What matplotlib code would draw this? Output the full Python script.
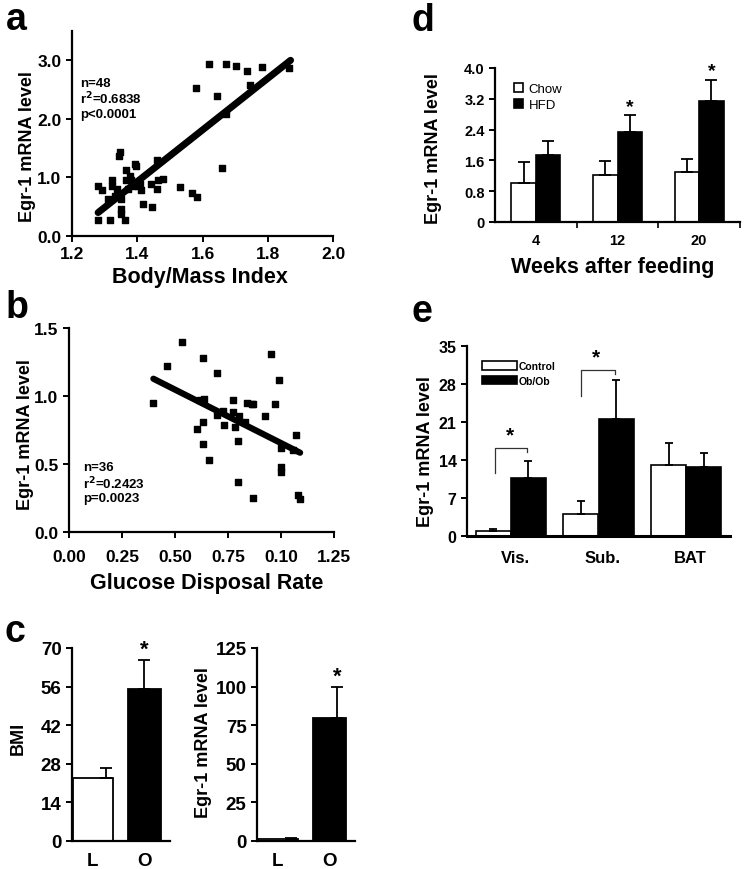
import numpy as np
import matplotlib
matplotlib.use("Agg")
import matplotlib.pyplot as plt

plt.rcParams['font.family'] = ['Liberation Sans', 'DejaVu Sans']
plt.rcParams['font.weight'] = 'bold'
plt.rcParams['axes.labelweight'] = 'bold'

# ---- data ----
# a: BMI vs Egr-1
bmi_x = [1.281, 1.293, 1.281, 1.316, 1.311, 1.324, 1.324, 1.331, 1.345, 1.347,
         1.349, 1.350, 1.349, 1.362, 1.365, 1.367, 1.372, 1.382, 1.392, 1.397,
         1.397, 1.408, 1.413, 1.418, 1.441, 1.446, 1.461, 1.461, 1.465, 1.478,
         1.531, 1.568, 1.583, 1.580, 1.620, 1.643, 1.659, 1.671, 1.671, 1.704,
         1.737, 1.747, 1.782, 1.865, 1.387, 1.337, 1.377, 1.402]
bmi_y = [0.86, 0.79, 0.28, 0.28, 0.63, 0.95, 0.86, 0.69, 1.37, 1.43,
         0.63, 0.46, 0.38, 0.28, 0.95, 1.12, 0.80, 0.95, 1.23, 1.20,
         0.92, 0.89, 0.78, 0.55, 0.89, 0.49, 1.29, 0.80, 0.95, 0.97,
         0.83, 0.74, 0.66, 2.52, 2.94, 2.39, 1.16, 2.93, 2.08, 2.91,
         2.82, 2.57, 2.88, 2.86, 0.86, 0.80, 1.03, 0.86]
fit_a_x = [1.28, 1.87]
fit_a_y = [0.40, 3.00]

# b: glucose disposal rate vs Egr-1
gdr_x = [0.398, 0.461, 0.531, 0.631, 0.697, 0.602, 0.618, 0.631, 0.634, 0.662,
         0.733, 0.775, 0.775, 0.783, 0.803, 0.799, 0.799, 0.830, 0.838, 0.862,
         0.869, 0.866, 0.925, 0.953, 0.972, 0.992, 0.998, 0.998, 1.000, 1.071,
         1.082, 1.090, 0.725, 1.058, 0.637, 0.700]
gdr_y = [0.95, 1.22, 1.40, 1.28, 1.17, 0.76, 0.97, 0.81, 0.65, 0.53,
         0.79, 0.97, 0.88, 0.77, 0.85, 0.67, 0.37, 0.81, 0.95, 0.94,
         0.94, 0.25, 0.85, 1.31, 0.94, 1.12, 0.62, 0.48, 0.44, 0.71,
         0.27, 0.245, 0.89, 0.60, 0.98, 0.86]
fit_b_x = [0.398, 1.09]
fit_b_y = [1.127, 0.583]
gdr_ticklabels = ["0.00", "0.25", "0.50", "0.75", "0.10", "1.25"]

# c: lean vs obese
c_groups = ["L", "O"]
c_bmi = [23, 55]
c_bmi_err = [3.5, 10.5]
c_egr = [1.5, 79.5]
c_egr_err = [0.5, 20]

# d: diet time course
d_weeks = ["4", "12", "20"]
d_chow = [1.02, 1.23, 1.30]
d_chow_err = [0.54, 0.35, 0.33]
d_hfd = [1.73, 2.34, 3.13]
d_hfd_err = [0.37, 0.43, 0.55]
d_star = [False, True, True]

# e: ob/ob depots
e_depots = ["Vis.", "Sub.", "BAT"]
e_ctrl = [0.92, 4.1, 13.0]
e_ctrl_err = [0.3, 2.4, 4.1]
e_ob = [10.7, 21.5, 12.8]
e_ob_err = [3.2, 7.3, 2.5]

W, H = 747, 870
fig = plt.figure(figsize=(W / 100, H / 100), dpi=100)


def ax_px(l, t, r, b):
    ax = fig.add_axes([l / W, 1 - b / H, (r - l) / W, (b - t) / H])
    ax.spines['top'].set_visible(False)
    ax.spines['right'].set_visible(False)
    for s in ('left', 'bottom'):
        ax.spines[s].set_linewidth(1.6)
    ax.tick_params(direction='out', width=1.4, length=4)
    ax._px = (l, t, r, b)
    return ax


def lab_pos(ax, xl=None, yl=None):
    l, t, r, b = ax._px
    if xl is not None:
        ax.xaxis.set_label_coords((xl[0] - l) / (r - l), (b - xl[1]) / (b - t))
    if yl is not None:
        ax.yaxis.set_label_coords((yl[0] - l) / (r - l), (b - yl[1]) / (b - t))


def letter(x, y, s):
    fig.text(x / W, 1 - y / H, s, fontsize=27, fontweight='bold', ha='center', va='center')


# ---- panel a ----
ax = ax_px(72, 32, 333, 237)
ax.scatter(bmi_x, bmi_y, marker='s', s=25, color='black', zorder=3)
ax.plot(fit_a_x, fit_a_y, color='black', lw=5, solid_capstyle='round', zorder=4)
ax.set_xlim(1.2, 2.0)
ax.set_ylim(0, 3.5)
ax.set_xticks([1.2, 1.4, 1.6, 1.8, 2.0])
ax.set_yticks([0, 1, 2, 3])
ax.set_yticklabels(["0.0", "1.0", "2.0", "3.0"])
ax.tick_params(labelsize=12.5)
ax.set_xlabel("Body/Mass Index", fontsize=15.5, va='center')
ax.set_ylabel("Egr-1 mRNA level", fontsize=13, va='center')
lab_pos(ax, (200, 278), (28, 147))
ax.text(1.225, 2.62, "n=48", fontsize=9.5, va='center')
ax.text(1.225, 2.35, "r$^2$=0.6838", fontsize=9.5, va='center')
ax.text(1.225, 2.08, "p<0.0001", fontsize=9.5, va='center')
letter(16, 20, "a")

# ---- panel b ----
ax = ax_px(69, 329, 334, 533)
ax.scatter(gdr_x, gdr_y, marker='s', s=25, color='black', zorder=3)
ax.plot(fit_b_x, fit_b_y, color='black', lw=4.5, solid_capstyle='round', zorder=4)
ax.set_xlim(0, 1.25)
ax.set_ylim(0, 1.5)
ax.set_xticks(np.arange(6) * 0.25)
ax.set_xticklabels(gdr_ticklabels)
ax.set_yticks([0, 0.5, 1.0, 1.5])
ax.set_yticklabels(["0.0", "0.5", "1.0", "1.5"])
ax.tick_params(labelsize=12.5)
ax.tick_params(axis='x', pad=8)
ax.set_xlabel("Glucose Disposal Rate", fontsize=15.5, va='center')
ax.set_ylabel("Egr-1 mRNA level", fontsize=13, va='center')
lab_pos(ax, (207, 583), (26, 435))
ax.text(0.065, 0.478, "n=36", fontsize=9.5, va='center')
ax.text(0.065, 0.36, "r$^2$=0.2423", fontsize=9.5, va='center')
ax.text(0.065, 0.25, "p=0.0023", fontsize=9.5, va='center')
letter(17, 308, "b")

# ---- panel c ----
pos = np.arange(len(c_groups))
widths = [0.78, 0.64]
for (l, r), vals, errs, yl, ymax, step, ylab, ylp, err_off in [
        ((72, 170), c_bmi, c_bmi_err, "BMI", 70, 14, 18, 738, [0.26, 0.0]),
        ((257, 355), c_egr, c_egr_err, "Egr-1 mRNA level", 125, 25, 203, 743, [0.25, 0.15])]:
    ax = ax_px(l, 649, r, 842)
    ax.bar(pos, vals, width=widths, color=['white', 'black'], edgecolor='black', linewidth=1.3)
    ax.errorbar(pos + np.array(err_off), vals, yerr=[[0, 0], errs], fmt='none',
                ecolor='black', elinewidth=1.3, capsize=4, capthick=1.3)
    ax.text(pos[1] + err_off[1], vals[1] + errs[1] + ymax * 0.005, "*", fontsize=16,
            ha='center', va='bottom')
    ax.set_xlim(-0.4, 1.5)
    ax.set_ylim(0, ymax)
    ax.set_yticks(np.arange(0, ymax + 1, step))
    ax.set_xticks(pos)
    ax.set_xticklabels(c_groups)
    ax.tick_params(axis='x', length=0, pad=8)
    ax.tick_params(labelsize=13.5)
    ax.set_ylabel(yl, fontsize=13, va='center')
    lab_pos(ax, None, (ylab, ylp))
letter(15, 632, "c")

# ---- panel d ----
ax = ax_px(495, 69, 740, 223)
x = np.arange(len(d_weeks))
bw = 0.3
b1 = ax.bar(x - bw / 2, d_chow, width=bw, color='white', edgecolor='black', linewidth=1.2, label='Chow')
b2 = ax.bar(x + bw / 2, d_hfd, width=bw, color='black', edgecolor='black', linewidth=1.2, label='HFD')
ax.errorbar(x - bw / 2, d_chow, yerr=[[0] * 3, d_chow_err], fmt='none', ecolor='black',
            elinewidth=1.3, capsize=4, capthick=1.3)
ax.errorbar(x + bw / 2, d_hfd, yerr=[[0] * 3, d_hfd_err], fmt='none', ecolor='black',
            elinewidth=1.3, capsize=4, capthick=1.3)
for i, st in enumerate(d_star):
    if st:
        ax.text(x[i] + bw / 2, d_hfd[i] + d_hfd_err[i] + 0.02, "*", fontsize=14,
                ha='center', va='bottom')
ax.set_xlim(-0.5, 2.5)
ax.set_ylim(0, 4.0)
ax.set_yticks([0, 0.8, 1.6, 2.4, 3.2, 4.0])
ax.set_yticklabels(["0", "0.8", "1.6", "2.4", "3.2", "4.0"])
ax.set_xticks(x)
ax.set_xticklabels(d_weeks)
ax.set_xticks([0.5, 1.5, 2.5], minor=True)
ax.tick_params(axis='x', which='major', length=0, pad=8)
ax.tick_params(axis='x', which='minor', direction='out', length=4, width=1.2)
ax.tick_params(labelsize=10.5)
ax.set_xlabel("Weeks after feeding", fontsize=15.5, va='center')
ax.set_ylabel("Egr-1 mRNA level", fontsize=13, va='center')
lab_pos(ax, (613, 267), (433, 149))
ax.legend(handles=[b1, b2], loc='upper left', bbox_to_anchor=(0.03, 0.98), frameon=False,
          handlelength=0.7, handleheight=0.7, handletextpad=0.4, labelspacing=0.3,
          prop={'size': 9.5, 'weight': 'normal'})
letter(423, 21, "d")

# ---- panel e ----
ax = ax_px(467, 347, 730, 537)
x = np.arange(len(e_depots))
bw = 0.4
b1 = ax.bar(x - bw / 2, e_ctrl, width=bw, color='white', edgecolor='black', linewidth=1.2, label='Control')
b2 = ax.bar(x + bw / 2, e_ob, width=bw, color='black', edgecolor='black', linewidth=1.2, label='Ob/Ob')
ax.errorbar(x - bw / 2, e_ctrl, yerr=[[0] * 3, e_ctrl_err], fmt='none', ecolor='black',
            elinewidth=1.3, capsize=3, capthick=1.3)
ax.errorbar(x + bw / 2, e_ob, yerr=[[0] * 3, e_ob_err], fmt='none', ecolor='black',
            elinewidth=1.3, capsize=3, capthick=1.3)
# significance brackets
for xl, xr, ytop, yleft, yright in [(-0.18, 0.19, 16.2, 11.6, 15.4),
                                    (0.8, 1.19, 30.6, 25.7, 29.8)]:
    ax.plot([xl, xl, xr, xr], [yleft, ytop, ytop, yright], color='#333333', lw=0.9)
    ax.text((xl + xr) / 2 - 0.02, ytop + 0.6, "*", fontsize=15, ha='center', va='bottom')
ax.set_xlim(-0.5, 2.5)
ax.set_ylim(0, 35)
ax.set_yticks(np.arange(0, 36, 7))
ax.set_xticks(x + 0.05)
ax.set_xticklabels(e_depots)
ax.tick_params(axis='x', length=0, pad=10, labelsize=12)
ax.tick_params(axis='y', labelsize=11.5)
ax.spines['bottom'].set_linewidth(2.2)
ax.set_ylabel("Egr-1 mRNA level", fontsize=13, va='center')
lab_pos(ax, None, (426, 452))
ax.legend(handles=[b1, b2], loc='upper left', bbox_to_anchor=(0.02, 0.97), frameon=False,
          handlelength=3.4, handleheight=0.9, handletextpad=0.15, labelspacing=0.45,
          prop={'size': 7.5, 'weight': 'bold'})
letter(422, 312, "e")

fig.savefig("out.png", dpi=100)
